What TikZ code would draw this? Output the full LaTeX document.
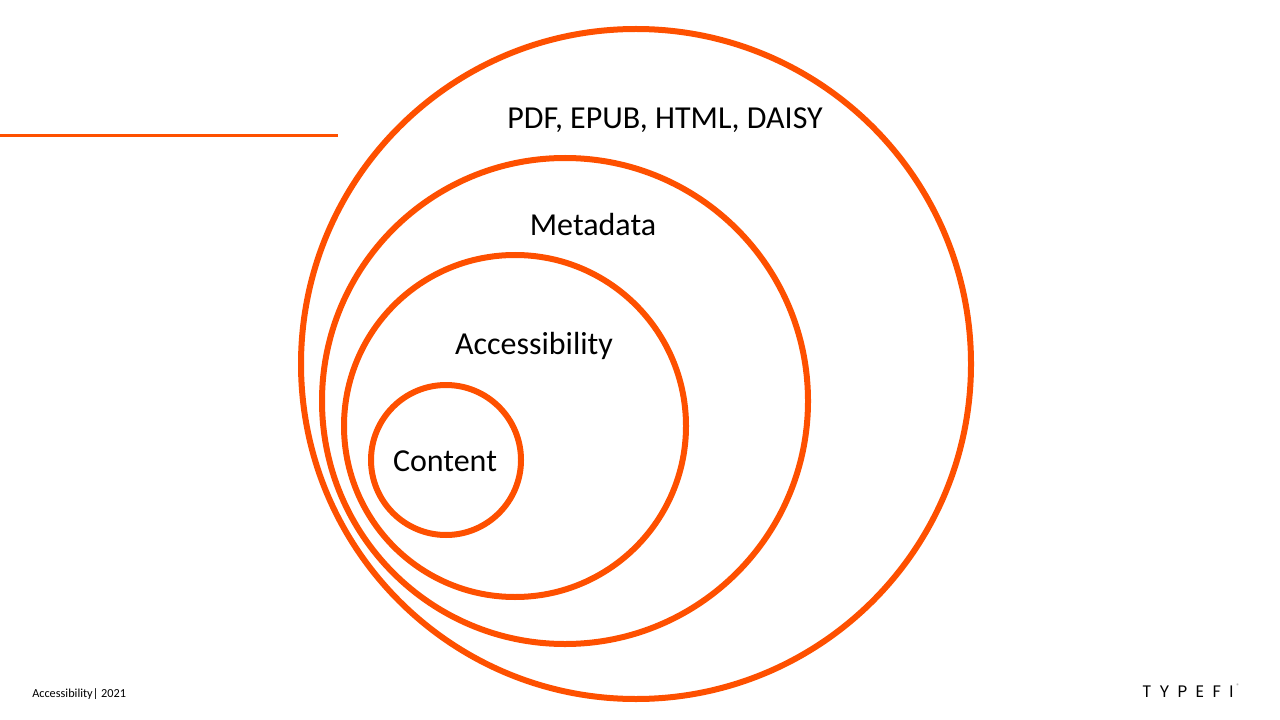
\documentclass[tikz,border=0pt]{standalone}
\usepackage{fontspec}
\setmainfont{Carlito}
\newfontfamily\logofont[LetterSpace=50]{Poppins}
\definecolor{typefiorange}{RGB}{254,80,0}
\begin{document}
\begin{tikzpicture}[x=0.75pt, y=-0.75pt,
    ring/.style = {draw=typefiorange, line width=4.5pt},
    lbl/.style = {font=\fontsize{24}{28}\selectfont, text=black, inner sep=0pt}]
        \useasboundingbox (0,0) rectangle (1280,720);

        % rings
        \draw[ring] (636,364) circle (335);
        \draw[ring] (565,401) circle (243);
        \draw[ring] (515,426) circle (171);
        \draw[ring] (446,460) circle (75);

        % rule on the left
        \coordinate (rulea) at (0,135.5);
        \coordinate (ruleb) at (338,135.5);
        \draw[typefiorange, line width=2.2pt] (rulea) -- (ruleb);

        % labels
        \node[lbl] (formats) at (665,120) {PDF, EPUB, HTML, DAISY};
        \node[lbl] (meta) at (593,225) {Metadata};
        \node[lbl] (access) at (534,346) {Accessibility};
        \node[lbl] (content) at (445,461) {Content};

        % footer
        \node[anchor=west, inner sep=0pt, font=\fontsize{9.2}{11}\selectfont] (footer) at (32,694) {Accessibility| 2021};
        \node[anchor=west, inner sep=0pt, font=\logofont\fontsize{12.5}{15}\selectfont] (logo) at (1142,692) {TYPEFI};
        \node[anchor=west, inner sep=0pt, font=\fontsize{5}{6}\selectfont, text=gray] (reg) at (1236,686) {®};

    \end{tikzpicture}
\end{document}
